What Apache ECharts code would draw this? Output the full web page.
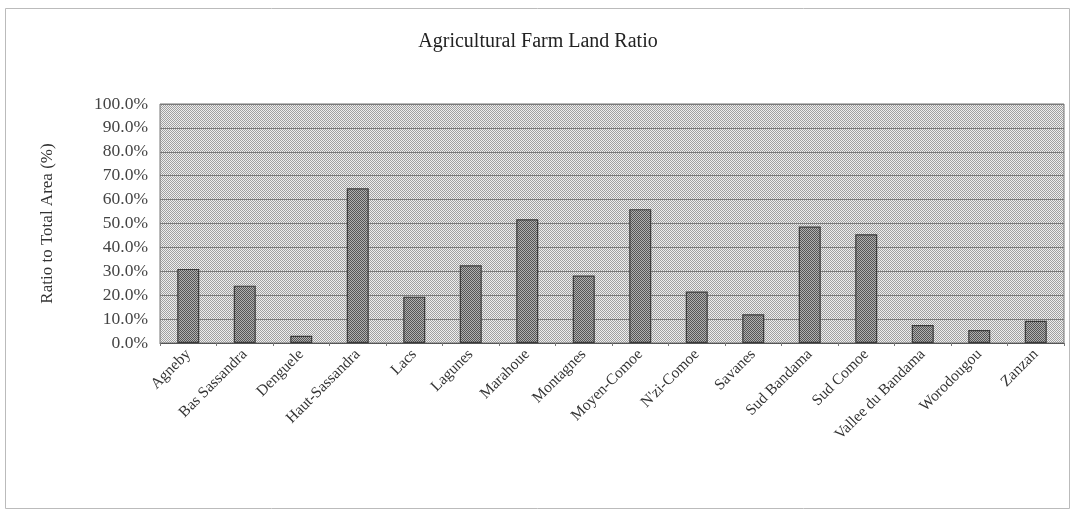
<!DOCTYPE html>
<html>
<head>
<meta charset="utf-8">
<script src="https://cdn.jsdelivr.net/npm/echarts@6/dist/echarts.min.js"></script>
<style>
html,body{margin:0;padding:0;background:#fff;}
#chart{width:1076px;height:515px;}
</style>
</head>
<body>
<div id="chart"></div>
<script>
const categories = ['Agneby','Bas Sassandra','Denguele','Haut-Sassandra','Lacs','Lagunes','Marahoue','Montagnes','Moyen-Comoe',"N'zi-Comoe",'Savanes','Sud Bandama','Sud Comoe','Vallee du Bandama','Worodougou','Zanzan'];
const ratioValues = [31.0, 24.0, 3.0, 64.7, 19.4, 32.5, 51.8, 28.2, 56.0, 21.5, 12.0, 48.7, 45.5, 7.5, 5.4, 9.3];
const titleText = 'Agricultural Farm Land Ratio';
const yAxisName = 'Ratio to Total Area (%)';

function makePattern(light, dark) {
  const c = document.createElement('canvas');
  c.width = 2; c.height = 2;
  const ctx = c.getContext('2d');
  ctx.fillStyle = light; ctx.fillRect(0,0,2,2);
  ctx.fillStyle = dark; ctx.fillRect(0,0,1,1); ctx.fillRect(1,1,1,1);
  return c;
}
const bgPattern = { image: makePattern('#eeeeee', '#a0a0a0'), repeat: 'repeat' };
const barPattern = { image: makePattern('#b0b0b0', '#555555'), repeat: 'repeat' };

const chart = echarts.init(document.getElementById('chart'), null, {renderer: 'canvas'});
const font = '"Liberation Serif", "DejaVu Serif", serif';
chart.setOption({
  animation: false,
  backgroundColor: '#fff',
  title: {
    text: titleText, left: 'center', top: 27,
    textStyle: { fontFamily: font, fontSize: 20, fontWeight: 'normal', color: '#222' }
  },
  graphic: [{
    type: 'rect', shape: { x: 5.5, y: 8.5, width: 1064, height: 500 },
    style: { fill: 'none', stroke: '#bbb', lineWidth: 1 }, silent: true, z: -1
  }],
  grid: {
    left: 160, right: 12, top: 104, bottom: 172,
    show: true, backgroundColor: bgPattern, borderColor: '#777', borderWidth: 1
  },
  xAxis: {
    type: 'category', data: categories,
    axisLine: { lineStyle: { color: '#555' } },
    axisTick: { show: true, length: 3, lineStyle: { color: '#777' } },
    axisLabel: { rotate: 45, interval: 0, fontFamily: font, fontSize: 15.5, color: '#333', margin: 9 }
  },
  yAxis: {
    type: 'value', min: 0, max: 100, interval: 10,
    name: yAxisName, nameLocation: 'middle', nameGap: 104,
    nameTextStyle: { fontFamily: font, fontSize: 17, color: '#333' },
    axisLine: { show: false }, axisTick: { show: false },
    axisLabel: { formatter: v => v.toFixed(1) + '%', fontFamily: font, fontSize: 17.5, color: '#444', margin: 12 },
    splitLine: { lineStyle: { color: '#7a7a7a', width: 1 } }
  },
  series: [{
    type: 'bar', data: ratioValues, barWidth: 22,
    itemStyle: { color: barPattern, borderColor: '#3a3a3a', borderWidth: 1.2 }
  }]
});
</script>
</body>
</html>
